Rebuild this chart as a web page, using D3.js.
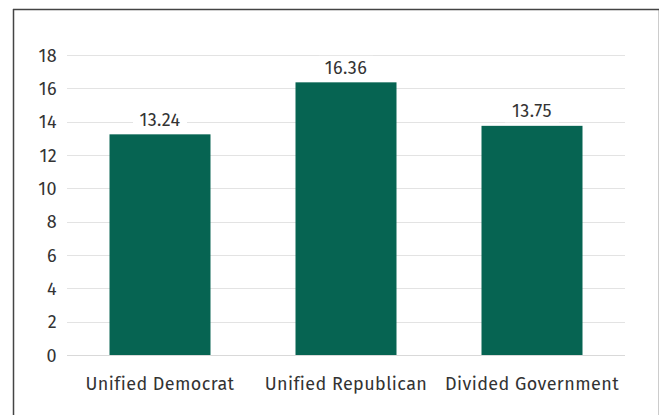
<!DOCTYPE html>
<html><head><meta charset="utf-8">
<script src="https://cdn.jsdelivr.net/npm/d3@7"></script>
<style>body{margin:0;background:#fff}svg{display:block}text{font-family:"Fira Sans","Noto Sans","Open Sans",sans-serif;letter-spacing:0.4px}</style>
</head><body><svg id="c" width="660" height="415"></svg>
<script>
const categories = ["Unified Democrat","Unified Republican","Divided Government"];
const values = [13.24, 16.36, 13.75];
const yTicks = [0,2,4,6,8,10,12,14,16,18];

const svg = d3.select("#c");
// frame
svg.append("rect").attr("x",13.5).attr("y",9.5).attr("width",645).attr("height",420)
  .attr("fill","none").attr("stroke","#ccc").attr("stroke-width",1);
svg.append("line").attr("x1",13.5).attr("x2",13.5).attr("y1",9).attr("y2",415).attr("stroke","#444").attr("stroke-width",1.5);
svg.append("line").attr("x1",13).attr("x2",659).attr("y1",9.5).attr("y2",9.5).attr("stroke","#444").attr("stroke-width",1.5);

const x = d3.scaleBand().domain(categories).range([67,625]).paddingInner(0.457).paddingOuter(0.2285);
const y = d3.scaleLinear().domain([0,18]).range([355,55]);

const g = svg.append("g");
g.selectAll("line.grid").data(yTicks).join("line").attr("class","grid")
  .attr("x1",67).attr("x2",625).attr("y1",d=>Math.round(y(d))+0.5).attr("y2",d=>Math.round(y(d))+0.5)
  .attr("stroke",d=>d===0?"#d9d9d9":"#e3e3e3").attr("stroke-width",1);

const yAxis = d3.axisLeft(y).tickValues(yTicks).tickSize(0).tickPadding(0).tickFormat(d3.format("d"));
const ya = svg.append("g").attr("transform","translate(57,0)").call(yAxis);
ya.select(".domain").remove();
ya.selectAll("text").attr("font-size",18).attr("fill","#333").attr("dy","0.35em");

g.selectAll("rect.bar").data(values).join("rect").attr("class","bar")
  .attr("x",(d,i)=>x(categories[i])).attr("width",x.bandwidth())
  .attr("y",d=>y(d)).attr("height",d=>y(0)-y(d)).attr("fill","#066452");

const lab = g.selectAll("g.lab").data(values).join("g").attr("class","lab")
  .attr("transform",(d,i)=>`translate(${x(categories[i])+x.bandwidth()/2},${y(d)-8.5})`);
lab.append("rect").attr("x",-27).attr("y",-18).attr("width",54).attr("height",23).attr("fill","#fff");
lab.append("text").attr("text-anchor","middle").attr("font-size",18).attr("fill","#333").text(d=>d.toFixed(2));

const xAxis = d3.axisBottom(x).tickSize(0).tickPadding(0);
const xa = svg.append("g").attr("transform","translate(0,377)").call(xAxis);
xa.select(".domain").remove();
xa.selectAll("text").attr("font-size",18).attr("fill","#333").attr("dy","0.71em");
</script></body></html>
